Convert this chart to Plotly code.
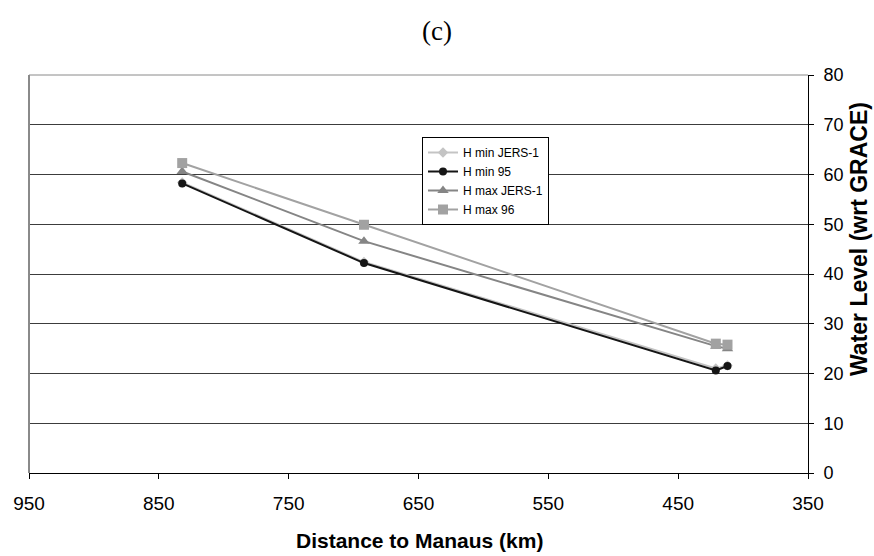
import plotly.graph_objects as go

# Data
distance_km = [832, 692, 421, 412]
h_min_jers1 = [58.4, 42.4, 21.0, 21.6]
h_min_95 = [58.2, 42.2, 20.6, 21.5]
h_max_jers1 = [60.6, 46.6, 25.5, 25.0]
h_max_96 = [62.3, 49.9, 26.0, 25.8]

x_ticks = [950, 850, 750, 650, 550, 450, 350]
y_ticks = [0, 10, 20, 30, 40, 50, 60, 70, 80]

W, H = 874, 556
L, R, T, B = 29, 808, 75, 473

fig = go.Figure()
series = [
    ("H min JERS-1", h_min_jers1, "#c4c4c4", "diamond", 8),
    ("H min 95", h_min_95, "#151515", "circle", 8),
    ("H max JERS-1", h_max_jers1, "#858585", "triangle-up", 10),
    ("H max 96", h_max_96, "#a2a2a2", "square", 10),
]
for name, ys, col, sym, sz in series:
    fig.add_trace(go.Scatter(
        x=distance_km, y=ys, name=name, mode="lines+markers",
        line=dict(color=col, width=2),
        marker=dict(color=col, symbol=sym, size=sz, line=dict(width=0)),
    ))

def px_x(px):
    return (px - L) / (R - L)

def px_y(py):
    return (B - py) / (B - T)

fig.update_layout(
    width=W, height=H,
    margin=dict(l=L, r=W - R, t=T, b=H - B, autoexpand=False),
    paper_bgcolor="white", plot_bgcolor="white",
    font=dict(family="Liberation Sans, Arial, sans-serif", color="black", size=18),
    showlegend=True,
    legend=dict(
        x=px_x(422), y=px_y(137), xanchor="left", yanchor="top",
        bgcolor="white", bordercolor="black", borderwidth=1,
        font=dict(size=12, family="Liberation Sans, Arial, sans-serif"),
        tracegroupgap=0, itemwidth=30,
    ),
    xaxis=dict(
        range=[950, 350], tickvals=x_ticks, ticktext=[str(v) for v in x_ticks],
        showgrid=False, zeroline=False,
        showline=True, linecolor="black", linewidth=1,
        ticks="outside", ticklen=5, tickcolor="black",
        tickfont=dict(size=19),
        ticklabelstandoff=8,
    ),
    yaxis=dict(
        range=[0, 80], tickvals=y_ticks, side="right",
        showgrid=True, gridcolor="#3c3c3c", gridwidth=1, zeroline=False,
        showline=True, linecolor="black", linewidth=1,
        ticks="outside", ticklen=5, tickcolor="black",
        tickfont=dict(size=18),
        ticklabelstandoff=6,
    ),
    shapes=[
        dict(type="line", xref="paper", yref="paper", x0=0, x1=1, y0=1, y1=1,
             line=dict(color="#8a8a8a", width=1), layer="above"),
        dict(type="line", xref="paper", yref="paper", x0=0, x1=0, y0=0, y1=1,
             line=dict(color="#8a8a8a", width=2), layer="above"),
    ],
    annotations=[
        dict(text="(c)", xref="paper", yref="paper", x=px_x(437), y=px_y(31),
             xanchor="center", yanchor="middle", showarrow=False,
             font=dict(family="Liberation Serif, Times New Roman, serif", size=27)),
        dict(text="<b>Distance to Manaus (km)</b>", xref="paper", yref="paper",
             x=px_x(419), y=px_y(540), xanchor="center", yanchor="middle", showarrow=False,
             font=dict(size=21)),
        dict(text="<b>Water Level (wrt GRACE)</b>", xref="paper", yref="paper",
             x=px_x(859), y=px_y(239), xanchor="center", yanchor="middle",
             textangle=-90, showarrow=False, font=dict(size=23)),
    ],
)

fig.write_html(
    "out.html",
    config={"displayModeBar": False},
    post_script="document.body.style.margin='0px';document.body.style.overflow='hidden';",
)
